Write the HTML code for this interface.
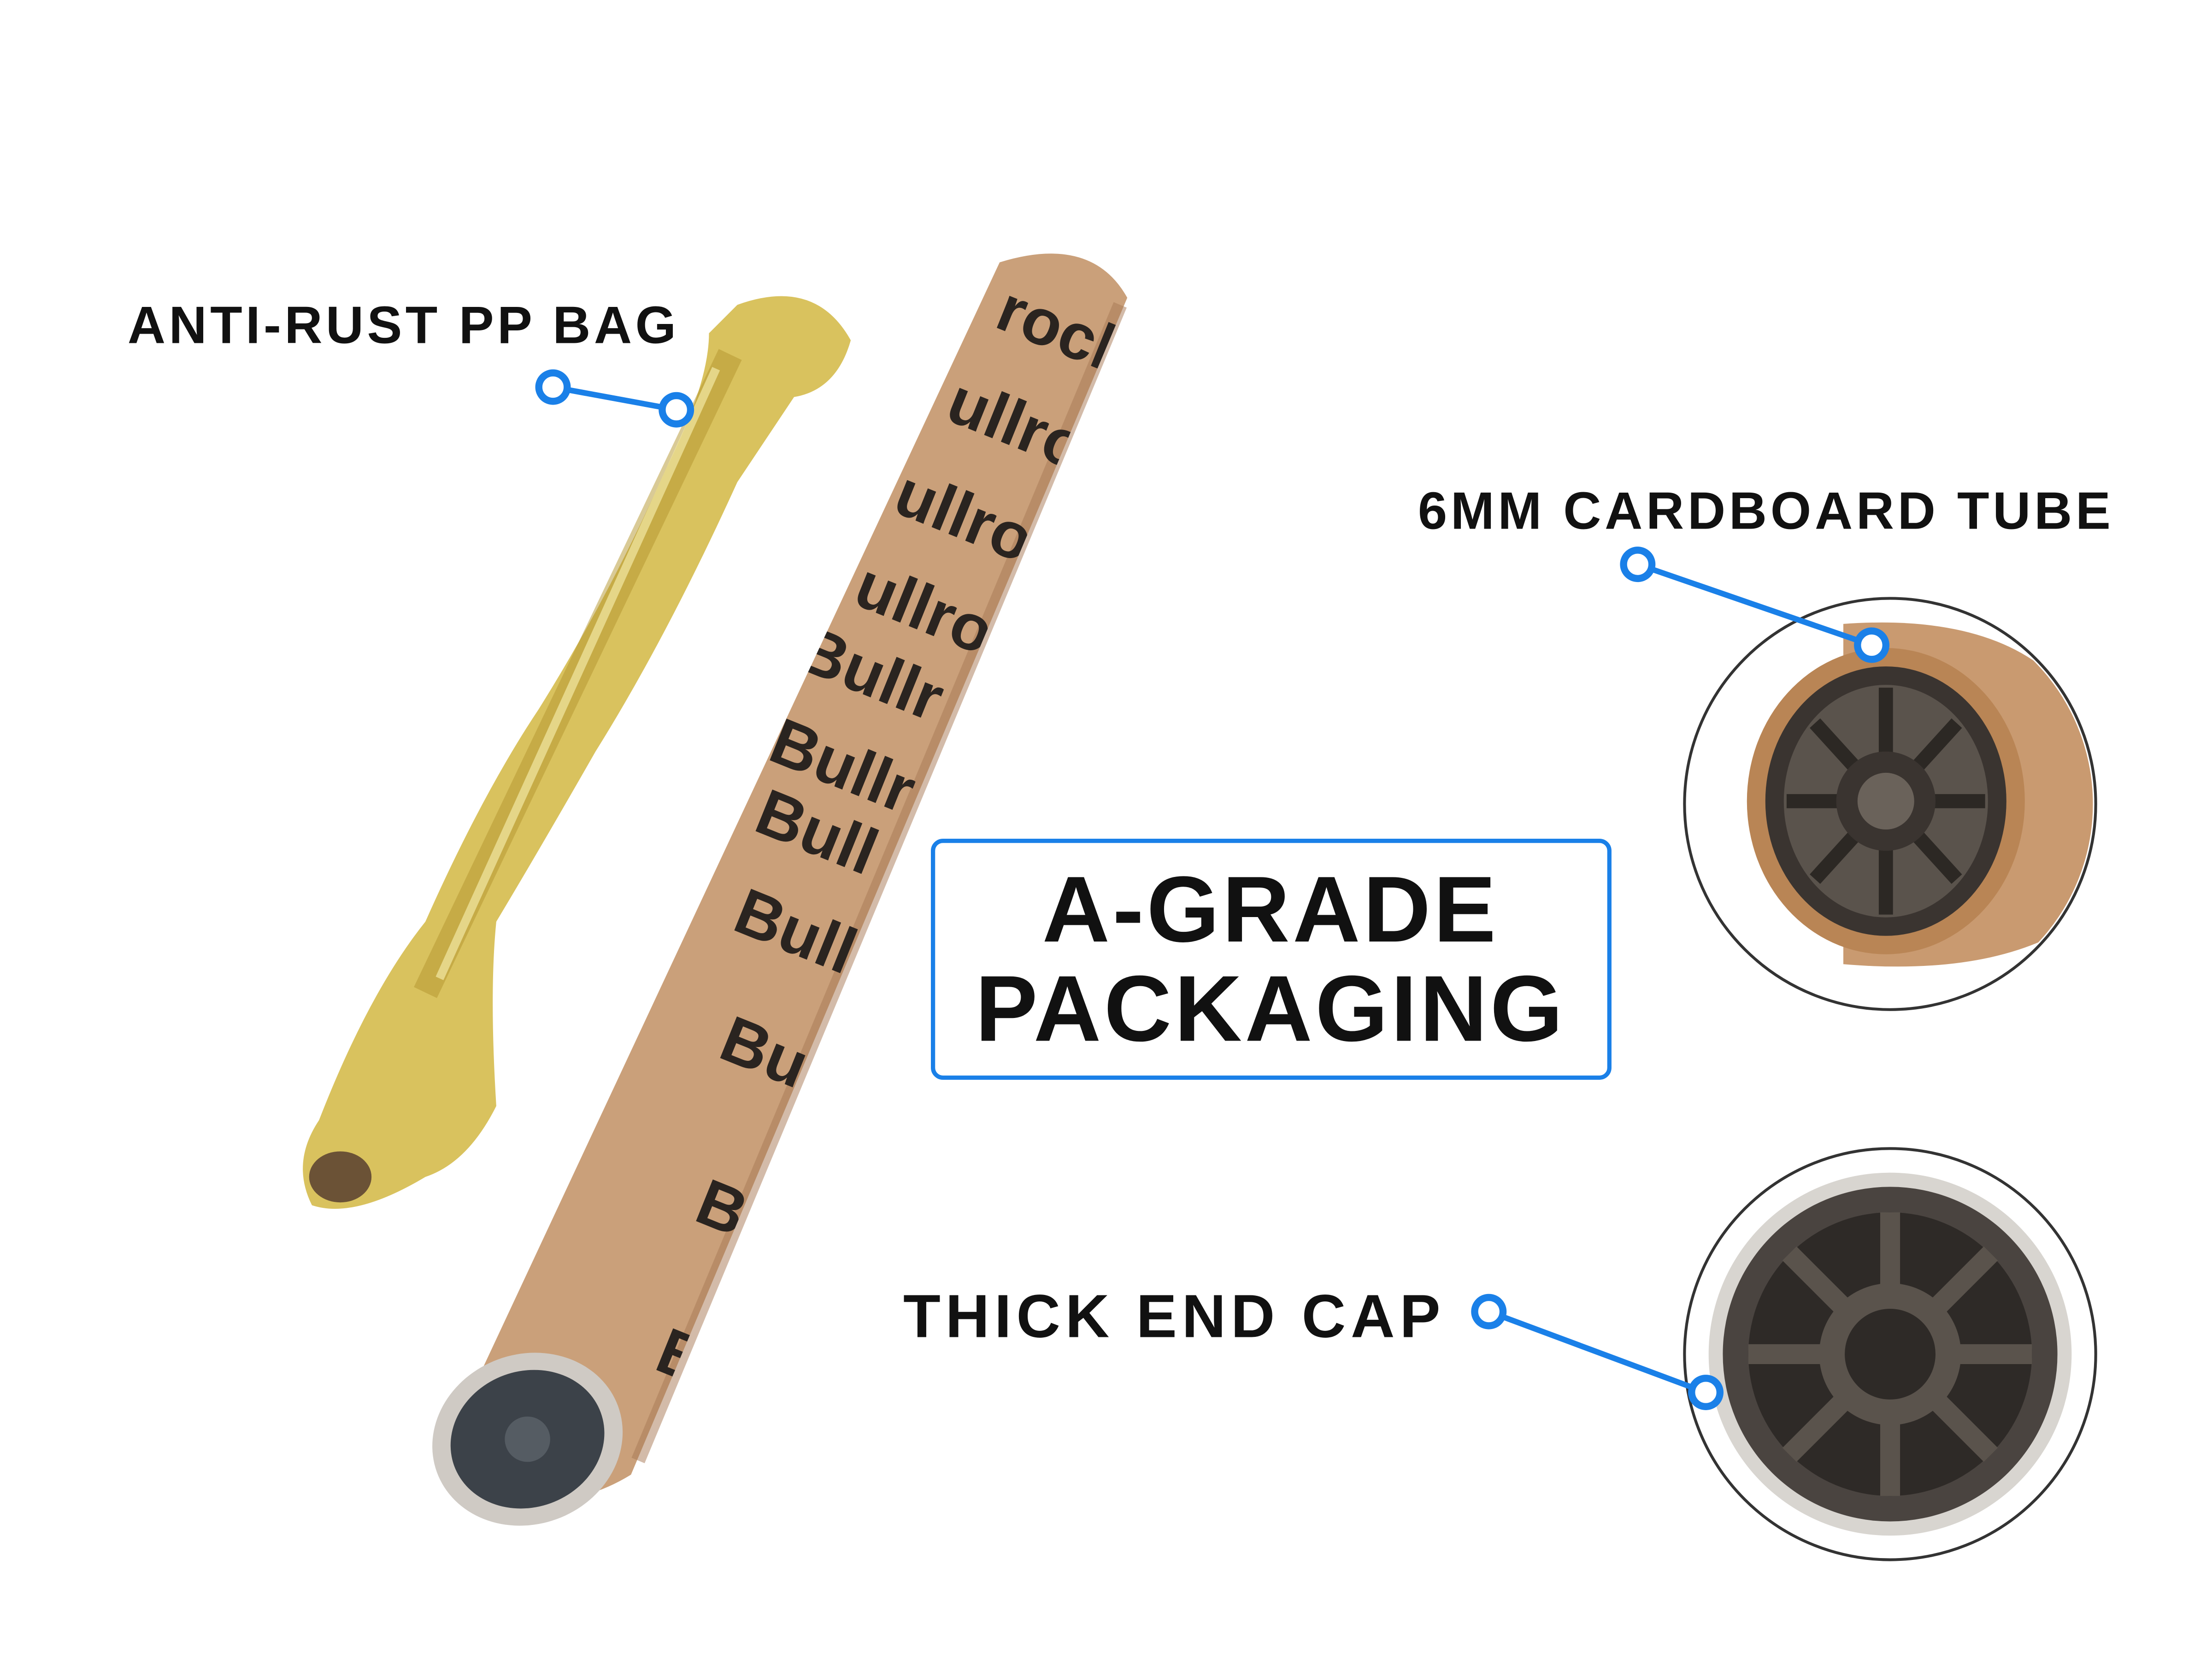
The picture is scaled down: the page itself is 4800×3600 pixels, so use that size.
<!DOCTYPE html>
<html><head><meta charset="utf-8"><style>
html,body{margin:0;padding:0;background:#fff;}
svg{display:block;}
text{font-family:"Liberation Sans",sans-serif;font-weight:bold;fill:#111;}
</style></head><body>
<svg width="4800" height="3600" viewBox="0 0 1560 1170" xmlns="http://www.w3.org/2000/svg">
<rect width="1560" height="1170" fill="#fff"/>
<!-- yellow bag -->
<g>
<path d="M520,215 Q575,195 600,240 Q590,275 560,280 L520,340 Q470,450 420,530 Q380,600 350,650 Q345,700 350,780 Q330,820 300,830 Q250,860 220,850 Q205,820 225,790 Q260,700 300,650 Q340,560 380,500 Q430,420 470,330 Q500,270 500,235 Z" fill="#d9c25e"/>
<path d="M515,250 L300,700" stroke="#b59630" stroke-width="18" opacity="0.5"/>
<path d="M505,260 L310,690" stroke="#f3e9a5" stroke-width="6" opacity="0.7"/>
<ellipse cx="240" cy="830" rx="22" ry="18" fill="#6b5236"/>
</g>
<!-- tube -->
<clipPath id="tube"><path d="M705,185 Q770,165 795,210 L445,1040 Q380,1080 310,1030 Z"/></clipPath>
<g>
<path d="M705,185 Q770,165 795,210 L445,1040 Q380,1080 310,1030 Z" fill="#caa07a"/>
<path d="M790,215 L450,1030" stroke="#a87a55" stroke-width="10" opacity="0.5"/>
<g clip-path="url(#tube)" style="font-size:46px">
<text transform="translate(700,230) rotate(22)" style="fill:#2a2420">rock</text>
<text transform="translate(665,295) rotate(22)" style="fill:#2a2420">ullrock</text>
<text transform="translate(628,360) rotate(22)" style="fill:#2a2420">ullroc</text>
<text transform="translate(600,425) rotate(22)" style="fill:#2a2420">ullro</text>
<text transform="translate(560,470) rotate(22)" style="fill:#2a2420">Bullr</text>
<text transform="translate(540,535) rotate(22)" style="fill:#2a2420">Bullr</text>
<text transform="translate(530,585) rotate(22)" style="fill:#2a2420">Bull</text>
<text transform="translate(515,655) rotate(22)" style="fill:#2a2420">Bull</text>
<text transform="translate(505,745) rotate(22)" style="fill:#2a2420">Bu</text>
<text transform="translate(488,860) rotate(22)" style="fill:#2a2420">Bu</text>
<text transform="translate(460,965) rotate(22)" style="fill:#2a2420">B</text>
</g>
<ellipse cx="372" cy="1015" rx="68" ry="60" fill="#cfcac4" transform="rotate(-20 372 1015)"/>
<ellipse cx="372" cy="1015" rx="55" ry="48" fill="#3c4249" transform="rotate(-20 372 1015)"/>
<circle cx="372" cy="1015" r="16" fill="#555c63"/>
</g>
<!-- left label -->
<text x="90" y="242" font-size="37" letter-spacing="2.4">ANTI-RUST PP BAG</text>
<line x1="390" y1="273" x2="477" y2="289" stroke="#1a80e8" stroke-width="4"/>
<circle cx="390" cy="273" r="10" fill="#fff" stroke="#1a80e8" stroke-width="5"/>
<circle cx="477" cy="289" r="10" fill="#fff" stroke="#1a80e8" stroke-width="5"/>
<!-- right top -->
<text x="1000" y="373" font-size="37" letter-spacing="2.5">6MM CARDBOARD TUBE</text>
<circle cx="1333" cy="567" r="145" fill="#fff" stroke="#333" stroke-width="2"/>
<clipPath id="c1"><circle cx="1333" cy="567" r="143"/></clipPath>
<g clip-path="url(#c1)">
<rect x="1188" y="422" width="290" height="290" fill="#fff"/>
<path d="M1300,440 Q1440,430 1478,520 L1478,640 Q1420,690 1300,680 Z" fill="#c99a70"/>
<ellipse cx="1330" cy="565" rx="98" ry="108" fill="#b98555"/>
<ellipse cx="1330" cy="565" rx="85" ry="95" fill="#3a3430"/>
<ellipse cx="1330" cy="565" rx="72" ry="82" fill="#5a534c"/>
<g stroke="#2c2824" stroke-width="10">
<line x1="1260" y1="565" x2="1400" y2="565"/><line x1="1330" y1="485" x2="1330" y2="645"/>
<line x1="1280" y1="510" x2="1380" y2="620"/><line x1="1380" y1="510" x2="1280" y2="620"/>
</g>
<circle cx="1330" cy="565" r="35" fill="#3a3430"/><circle cx="1330" cy="565" r="20" fill="#6a625a"/>
</g>
<line x1="1155" y1="398" x2="1320" y2="455" stroke="#1a80e8" stroke-width="4"/>
<circle cx="1155" cy="398" r="10" fill="#fff" stroke="#1a80e8" stroke-width="5"/>
<circle cx="1320" cy="455" r="10" fill="#fff" stroke="#1a80e8" stroke-width="5"/>
<!-- center box -->
<rect x="658" y="593" width="477" height="167" rx="7" fill="#fff" stroke="#1a80e8" stroke-width="3"/>
<text x="896" y="664" font-size="66" text-anchor="middle" letter-spacing="2">A-GRADE</text>
<text x="896" y="734" font-size="66" text-anchor="middle" letter-spacing="2">PACKAGING</text>
<!-- bottom right -->
<text x="637" y="943" font-size="43" letter-spacing="3.5">THICK END CAP</text>
<circle cx="1333" cy="955" r="145" fill="#fff" stroke="#333" stroke-width="2"/>
<circle cx="1333" cy="955" r="128" fill="#d8d5d0"/>
<circle cx="1333" cy="955" r="118" fill="#4a4440"/>
<circle cx="1333" cy="955" r="100" fill="#2e2a27"/>
<g stroke="#5a534c" stroke-width="14">
<line x1="1233" y1="955" x2="1433" y2="955"/><line x1="1333" y1="855" x2="1333" y2="1055"/>
<line x1="1262" y1="884" x2="1404" y2="1026"/><line x1="1404" y1="884" x2="1262" y2="1026"/>
</g>
<circle cx="1333" cy="955" r="50" fill="#5a534c"/><circle cx="1333" cy="955" r="32" fill="#2e2a27"/>
<line x1="1050" y1="925" x2="1203" y2="982" stroke="#1a80e8" stroke-width="4"/>
<circle cx="1050" cy="925" r="10" fill="#fff" stroke="#1a80e8" stroke-width="5"/>
<circle cx="1203" cy="982" r="10" fill="#fff" stroke="#1a80e8" stroke-width="5"/>
</svg>
</body></html>
